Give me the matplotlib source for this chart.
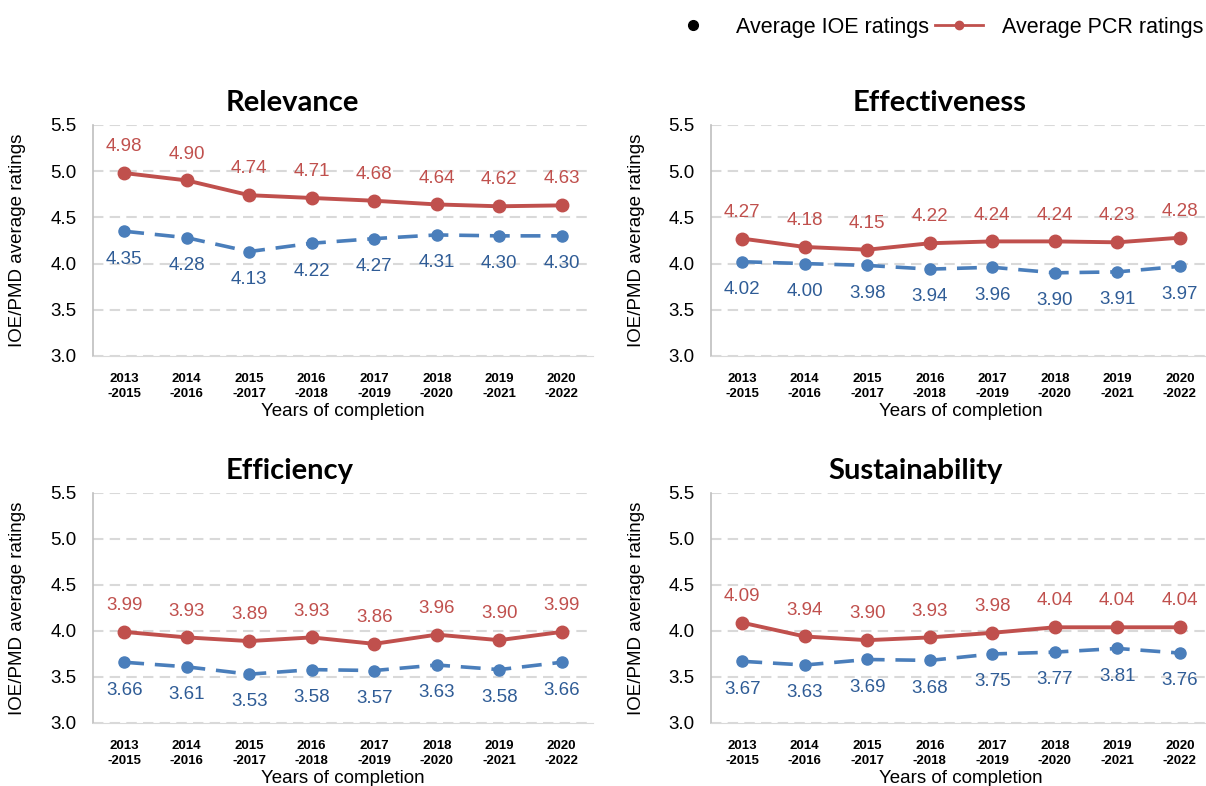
import numpy as np
import matplotlib
matplotlib.use("Agg")
import matplotlib.pyplot as plt
from matplotlib.lines import Line2D

plt.rcParams['font.family'] = ['Liberation Sans', 'DejaVu Sans']

# data
periods = ["2013\n-2015", "2014\n-2016", "2015\n-2017", "2016\n-2018",
           "2017\n-2019", "2018\n-2020", "2019\n-2021", "2020\n-2022"]
titles = ["Relevance", "Effectiveness", "Efficiency", "Sustainability"]
pcr_relevance = [4.98, 4.90, 4.74, 4.71, 4.68, 4.64, 4.62, 4.63]
ioe_relevance = [4.35, 4.28, 4.13, 4.22, 4.27, 4.31, 4.30, 4.30]
pcr_effectiveness = [4.27, 4.18, 4.15, 4.22, 4.24, 4.24, 4.23, 4.28]
ioe_effectiveness = [4.02, 4.00, 3.98, 3.94, 3.96, 3.90, 3.91, 3.97]
pcr_efficiency = [3.99, 3.93, 3.89, 3.93, 3.86, 3.96, 3.90, 3.99]
ioe_efficiency = [3.66, 3.61, 3.53, 3.58, 3.57, 3.63, 3.58, 3.66]
pcr_sustainability = [4.09, 3.94, 3.90, 3.93, 3.98, 4.04, 4.04, 4.04]
ioe_sustainability = [3.67, 3.63, 3.69, 3.68, 3.75, 3.77, 3.81, 3.76]

pcr_all = [pcr_relevance, pcr_effectiveness, pcr_efficiency, pcr_sustainability]
ioe_all = [ioe_relevance, ioe_effectiveness, ioe_efficiency, ioe_sustainability]

red = '#C0504D'
blue = '#4A7EBB'
blue_txt = '#2F5C96'

fig = plt.figure(figsize=(12.06, 7.86), dpi=100)

W = 0.4146
rects = [(0.0771, 0.5471, W, 0.2939), (0.5896, 0.5471, W, 0.2939),
         (0.0771, 0.0802, W, 0.2926), (0.5896, 0.0802, W, 0.2926)]
title_x = [0.398, 0.458, 0.394, 0.408]

x = np.arange(len(periods))
for k in range(4):
    ax = fig.add_axes(rects[k])
    ax.plot(x, pcr_all[k], color=red, lw=2.8, marker='o', ms=9, zorder=3)
    ax.plot(x, ioe_all[k], color=blue, lw=2.6, ls=(0, (5.5, 3)), marker='o', ms=8, zorder=3)
    for xi, v in zip(x, pcr_all[k]):
        ax.annotate(f"{v:.2f}", (xi, v), xytext=(0, 19), textcoords='offset points',
                    ha='center', va='center', color=red, fontsize=13.5)
    for xi, v in zip(x, ioe_all[k]):
        ax.annotate(f"{v:.2f}", (xi, v), xytext=(0, -20), textcoords='offset points',
                    ha='center', va='center', color=blue_txt, fontsize=13.5)
    ax.set_xlim(-0.5, 7.5)
    ax.set_ylim(3.0, 5.5)
    ax.set_yticks([3.0, 3.5, 4.0, 4.5, 5.0, 5.5])
    ax.set_yticklabels(["3.0", "3.5", "4.0", "4.5", "5.0", "5.5"], fontsize=13.5)
    ax.set_xticks(x)
    ax.set_xticklabels(periods, fontsize=9.5, fontweight='bold', linespacing=1.35)
    ax.tick_params(length=0, pad=12)
    ax.tick_params(axis='x', pad=12)
    ax.grid(axis='y', color='#D9D9D9', ls=(0, (5, 3)), lw=1.5)
    ax.set_axisbelow(True)
    for s in ['top', 'right']:
        ax.spines[s].set_visible(False)
    ax.spines['left'].set_color('#BFBFBF')
    ax.spines['bottom'].set_color('#D9D9D9')
    ax.spines['left'].set_linewidth(1.2)
    ax.set_xlabel("Years of completion", fontsize=13.5, labelpad=2)
    ax.set_ylabel("IOE/PMD average ratings", fontsize=13.5, labelpad=17)
    ax.text(title_x[k], 1.095, titles[k], transform=ax.transAxes, ha='center', va='center',
            fontsize=21, fontweight='bold', family=['Lato', 'DejaVu Sans'])

handles = [Line2D([], [], color='black', marker='o', ls='none', ms=7),
           Line2D([], [], color=red, marker='o', lw=2, ms=6)]
fig.legend(handles, ["Average IOE ratings", "Average PCR ratings"], loc='upper right',
           bbox_to_anchor=(1.014, 1.003), ncol=2, frameon=False, fontsize=15.5,
           handlelength=2.2, columnspacing=0.3, handletextpad=0.9)

fig.savefig("out.png", dpi=100)
